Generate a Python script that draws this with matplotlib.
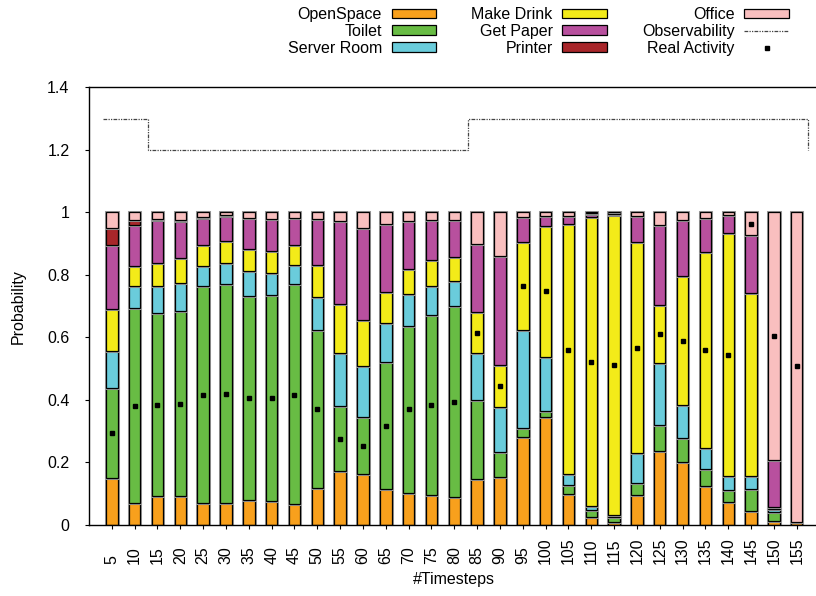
import numpy as np
import matplotlib
matplotlib.use("Agg")
import matplotlib.pyplot as plt
import matplotlib.patheffects as pe
from matplotlib.patches import Patch
from matplotlib.lines import Line2D

plt.rcParams['font.family'] = ['Liberation Sans', 'DejaVu Sans']

timesteps = list(range(5, 160, 5))

# stacked probabilities, bottom to top
open_space = [0.151, 0.071, 0.093, 0.094, 0.069, 0.071, 0.080, 0.076, 0.066, 0.119,
              0.173, 0.163, 0.116, 0.103, 0.096, 0.089, 0.148, 0.153, 0.281, 0.347,
              0.099, 0.025, 0.011, 0.096, 0.237, 0.203, 0.126, 0.075, 0.045, 0.013, 0.010]
toilet = [0.286, 0.622, 0.584, 0.589, 0.694, 0.699, 0.651, 0.659, 0.704, 0.505,
          0.207, 0.183, 0.406, 0.534, 0.576, 0.610, 0.252, 0.080, 0.030, 0.019,
          0.029, 0.023, 0.016, 0.037, 0.082, 0.076, 0.052, 0.037, 0.071, 0.030, 0.0]
server_room = [0.119, 0.071, 0.088, 0.092, 0.067, 0.069, 0.080, 0.072, 0.062, 0.106,
               0.169, 0.163, 0.125, 0.101, 0.094, 0.082, 0.149, 0.144, 0.313, 0.171,
               0.034, 0.013, 0.005, 0.096, 0.198, 0.105, 0.067, 0.044, 0.041, 0.008, 0.0]
make_drink = [0.136, 0.065, 0.072, 0.080, 0.066, 0.070, 0.072, 0.068, 0.062, 0.101,
              0.158, 0.147, 0.099, 0.081, 0.081, 0.076, 0.132, 0.136, 0.281, 0.418,
              0.801, 0.924, 0.958, 0.676, 0.186, 0.412, 0.628, 0.777, 0.585, 0.006, 0.0]
get_paper = [0.203, 0.132, 0.137, 0.118, 0.086, 0.079, 0.099, 0.105, 0.087, 0.148,
             0.264, 0.295, 0.217, 0.153, 0.127, 0.117, 0.217, 0.348, 0.080, 0.032,
             0.026, 0.009, 0.006, 0.084, 0.257, 0.179, 0.109, 0.059, 0.184, 0.150, 0.0]
printer = [0.055, 0.013, 0.005, 0.003, 0.002, 0.003, 0.001, 0.0, 0.0, 0.0,
           0.0, 0.0, 0.0, 0.0, 0.0, 0.0, 0.0, 0.0, 0.0, 0.0,
           0.0, 0.004, 0.004, 0.0, 0.0, 0.0, 0.0, 0.0, 0.0, 0.0, 0.0]
office = [0.050, 0.026, 0.021, 0.024, 0.018, 0.009, 0.018, 0.020, 0.019, 0.021,
          0.029, 0.049, 0.037, 0.028, 0.026, 0.026, 0.102, 0.139, 0.015, 0.013,
          0.011, 0.002, 0.000, 0.011, 0.040, 0.025, 0.018, 0.008, 0.074, 0.793, 0.990]

real_activity = [0.295, 0.382, 0.385, 0.388, 0.417, 0.420, 0.407, 0.407, 0.417, 0.372,
                 0.276, 0.254, 0.318, 0.372, 0.385, 0.395, 0.615, 0.446, 0.766, 0.747,
                 0.560, 0.522, 0.512, 0.567, 0.612, 0.590, 0.560, 0.544, 0.963, 0.603, 0.507]

observability = [1.3, 1.3] + [1.2] * 14 + [1.3] * 14 + [1.2]

series = [
    ("OpenSpace", open_space, "#F8A01C"),
    ("Toilet", toilet, "#68BC44"),
    ("Server Room", server_room, "#6ACCDB"),
    ("Make Drink", make_drink, "#F3EB19"),
    ("Get Paper", get_paper, "#B8509E"),
    ("Printer", printer, "#A8262A"),
    ("Office", office, "#F9BFBF"),
]

W, H = 816, 596
fig = plt.figure(figsize=(W / 100, H / 100), dpi=100)
ax = fig.add_axes([89 / W, (H - 525) / H, 730.6 / W, 437.7 / H])

x = np.array(timesteps)
bottom = np.zeros(len(x))
halo = [pe.Stroke(linewidth=2.2, foreground="#9a9a9a"), pe.Normal()]
handles = []
for name, vals, col in series:
    vals = np.array(vals)
    ax.bar(x, vals, width=2.5, bottom=bottom, color=col, edgecolor="black",
           linewidth=0.9, path_effects=halo, zorder=2)
    bottom += vals
    handles.append(Patch(facecolor=col, edgecolor="black", linewidth=0.9))

# observability as a step line (last drop sits just right of the last bar)
obs_x = np.append(x[:-1] - 2, x[-1] + 2.5)
ax.step(obs_x, observability, where="post", color="#444444", linewidth=0.9,
        linestyle=(0, (3, 1, 1, 1, 1, 1)), zorder=3)
ax.plot(x, real_activity, linestyle="none", marker="s", markersize=3,
        color="black", zorder=4)

handles.append(Line2D([], [], color="#444444", linewidth=0.9,
                      linestyle=(0, (3, 1, 1, 1, 1, 1))))
handles.append(Line2D([], [], linestyle="none", marker="s", markersize=3, color="black"))
labels = [s[0] for s in series] + ["Observability", "Real Activity"]

ax.set_xlim(0, 160)
ax.set_ylim(0, 1.4)
ax.set_xticks(timesteps)
ax.set_xticklabels([str(t) for t in timesteps])
ax.set_yticks(np.arange(0, 1.41, 0.2))
ax.set_yticklabels(["0", "0.2", "0.4", "0.6", "0.8", "1", "1.2", "1.4"])
ax.tick_params(axis="both", direction="out", length=3, width=0.8, labelsize=11.5)
ax.tick_params(axis="y", pad=11)
ax.tick_params(axis="x", pad=25)
for lab in ax.get_xticklabels():
    lab.set_rotation(90)
    lab.set_rotation_mode("anchor")
    lab.set_ha("left")
    lab.set_va("center")
for sp in ax.spines.values():
    sp.set_linewidth(1.0)

ax.set_ylabel("Probability", fontsize=11.5)
ax.yaxis.set_label_coords(-0.086, 0.5)
ax.set_xlabel("#Timesteps", fontsize=11.5)
ax.xaxis.set_label_coords(0.5, -0.107)

fig.legend(handles, labels, ncol=3, markerfirst=False, loc="upper right",
           bbox_to_anchor=(789 / W, 1 - 7 / H), frameon=False, fontsize=11.5,
           handlelength=2.8, handleheight=0.55, labelspacing=0.12,
           columnspacing=2.2, handletextpad=0.6, borderpad=0, borderaxespad=0)

fig.savefig("out.png", dpi=100)
